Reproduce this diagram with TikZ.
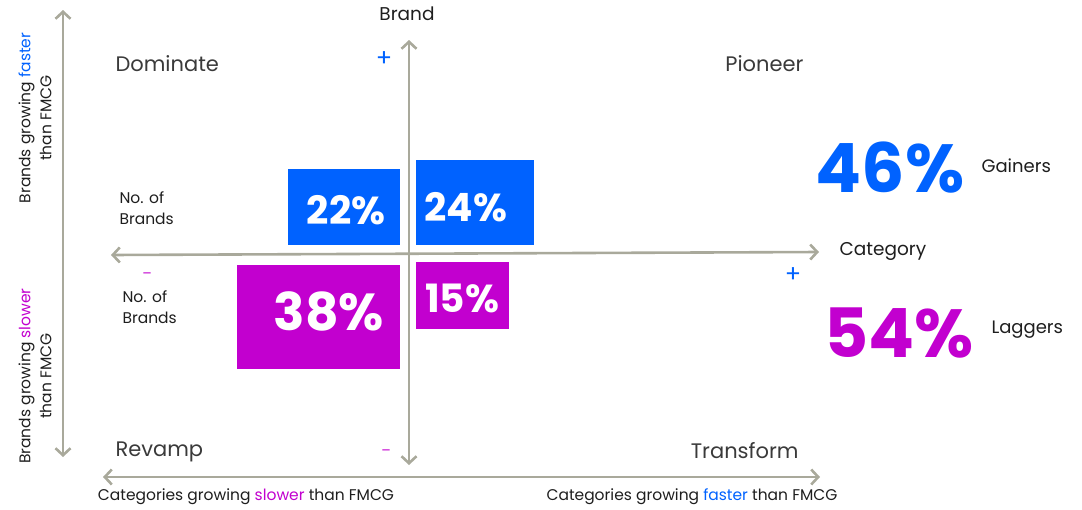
\documentclass[tikz,border=0pt]{standalone}
\usepackage{fontspec}
\setmainfont{Poppins}
\usetikzlibrary{arrows.meta, positioning}

\definecolor{axisgray}{HTML}{A9A99B}
\definecolor{gainblue}{HTML}{0062FF}
\definecolor{lagpink}{HTML}{C200CF}
\definecolor{labelgray}{HTML}{3A3A3A}
\definecolor{textdark}{HTML}{1E1E1E}

\begin{document}
\begin{tikzpicture}[x=1pt,y=-1pt,
	axis/.style={draw=axisgray, line width=2.6pt, {Straight Barb[length=7pt,width=15pt]}-{Straight Barb[length=7pt,width=15pt]}},
	quad/.style={text=labelgray, font=\fontsize{21}{24}\selectfont},
	axlabel/.style={text=textdark, font=\fontsize{18.5}{22}\selectfont},
	small/.style={text=textdark, font=\fontsize{15.5}{21}\selectfont, align=left},
	sign/.style={text=#1, font=\fontsize{24}{24}\selectfont},
	minus/.style={text=lagpink, font=\fontsize{14}{14}\selectfont},
	sharebox/.style={fill=#1, inner sep=0pt, anchor=north west},
	share/.style={text=white, font=\bfseries\fontsize{#1}{#1}\selectfont},
	big/.style={text=#1, font=\bfseries\fontsize{68}{68}\selectfont}]
		\useasboundingbox (0,0) rectangle (1082,509);
		
		% axes
		\coordinate (lt) at (63,10);   \coordinate (lb) at (63,457);
		\coordinate (bl) at (103,477); \coordinate (br) at (820,477);
		\coordinate (vt) at (409,40);  \coordinate (vb) at (409,465);
		\coordinate (hl) at (111,255); \coordinate (hr) at (819,252);
		\draw[axis] (lt) -- (lb);
		\draw[axis] (bl) -- (br);
		\draw[axis] (vt) -- (vb);
		\draw[axis] (hl) -- (hr);
		
		\node[axlabel] (brand) at (407,14) {Brand};
		\node[axlabel, anchor=west] (cat) at (836,251) {Category};
		
		\node[quad, anchor=west] (dom) at (112,64) {Dominate};
		\node[quad, anchor=east] (pio) at (807,64) {Pioneer};
		\node[quad, anchor=west] (rev) at (112,452) {Revamp};
		\node[quad, anchor=east] (tra) at (802,451) {Transform};
		
		\node[sign=gainblue] (p1) at (384,59) {+};
		\node[sign=gainblue] (p2) at (793,275) {+};
		\node[minus] (m1) at (147,276) {–};
		\node[minus] (m2) at (386,453) {–};
		
		\node[small, rotate=90, align=center] (bfast) at (35,118) {Brands growing \textcolor{gainblue}{faster}\\than FMCG};
		\node[small, rotate=90, align=center] (bslow) at (35,376) {Brands growing \textcolor{lagpink}{slower}\\than FMCG};
		\node[small] (cslow) at (246,497) {Categories growing \textcolor{lagpink}{slower} than FMCG};
		\node[small] (cfast) at (692,497) {Categories growing \textcolor{gainblue}{faster} than FMCG};
		
		\node[small, anchor=west] (nob1) at (116,208) {No. of\\Brands};
		\node[small, anchor=west] (nob2) at (119,307) {No. of\\Brands};
		
		% share boxes
		\node[sharebox=gainblue, minimum width=112pt, minimum height=76pt] (b22) at (288,169) {};
		\node[sharebox=gainblue, minimum width=118pt, minimum height=85pt] (b24) at (416,160) {};
		\node[sharebox=lagpink, minimum width=163pt, minimum height=104pt] (b38) at (237,265) {};
		\node[sharebox=lagpink, minimum width=93pt, minimum height=67pt] (b15) at (416,262) {};
		\node[share=39] (t22) at (346,210) {22\%};
		\node[share=39] (t24) at (466,207) {24\%};
		\node[share=52] (t38) at (329,311) {38\%};
		\node[share=39] (t15) at (462,298) {15\%};
		
		\node[big=gainblue] (g) at (890,168) {46\%};
		\node[small, font=\fontsize{18}{20}\selectfont, anchor=west] (gl) at (978,166) {Gainers};
		\node[big=lagpink] (l) at (899,333) {54\%};
		\node[small, font=\fontsize{18}{20}\selectfont, anchor=west] (ll) at (988,330) {Laggers};
\end{tikzpicture}
\end{document}
